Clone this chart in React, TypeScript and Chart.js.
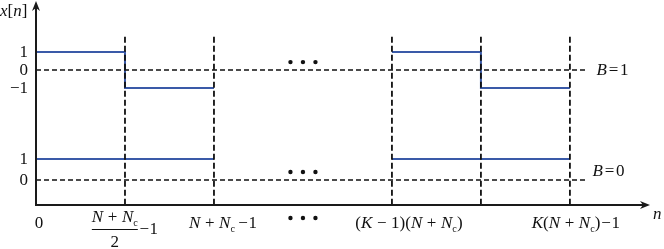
import React, { useEffect, useRef } from "react";
import { Chart, registerables } from "chart.js";

Chart.register(...registerables);

// ---- data (x in symbol-boundary units, y in signal amplitude) ----
const boundaryX = [1, 2, 4, 5, 6];
const topSeg1X = [0, 1, 1, 2];
const topSeg1Y = [1, 1, -1, -1];
const topSeg2X = [4, 5, 5, 6];
const topSeg2Y = [1, 1, -1, -1];
const botSeg1X = [0, 2];
const botSeg1Y = [1, 1];
const botSeg2X = [4, 6];
const botSeg2Y = [1, 1];
const zeroLineX = [0, 6.18];
const zeroLineY = [0, 0];
const guideY = [1.85, -7.5];
const yTopTicks = [1, 0, -1];
const yTopTickLabels = ["1", "0", "\u22121"];
const yBotTicks = [1, 0];
const yBotTickLabels = ["1", "0"];
const ellipsisX = 3;
const ellipsisTopY = 0.44;
const ellipsisBotY = 0.38;
const bLabelX = 6.3;
const bTopY = 0;
const bBotY = 0.38;

const BLUE = "#3a5aa8";
const BLACK = "#111";
const FONT = '"Liberation Serif", "DejaVu Serif", serif';
const FS = 17;

type Seg = { t?: string; i?: boolean; sub?: boolean; sp?: number };

function fontFor(s: Seg) {
  const size = s.sub ? FS * 0.6 : FS;
  return `${s.i ? "italic " : ""}${size}px ${FONT}`;
}
function measure(ctx: CanvasRenderingContext2D, segs: Seg[]) {
  let w = 0;
  for (const s of segs) {
    if (s.sp) w += s.sp * FS;
    else {
      ctx.font = fontFor(s);
      w += ctx.measureText(s.t || "").width;
    }
  }
  return w;
}
function drawRich(
  ctx: CanvasRenderingContext2D,
  segs: Seg[],
  x: number,
  y: number,
  align: "left" | "center" | "right"
) {
  const w = measure(ctx, segs);
  let cx = align === "center" ? x - w / 2 : align === "right" ? x - w : x;
  ctx.textAlign = "left";
  ctx.textBaseline = "middle";
  for (const s of segs) {
    if (s.sp) {
      cx += s.sp * FS;
      continue;
    }
    ctx.font = fontFor(s);
    ctx.fillText(s.t || "", cx, s.sub ? y + FS * 0.3 : y);
    cx += ctx.measureText(s.t || "").width;
  }
  return w;
}

const SP = 0.27;
const NNc: Seg[] = [
  { t: "N", i: true },
  { sp: SP },
  { t: "+" },
  { sp: SP },
  { t: "N", i: true },
  { t: "c", sub: true },
];
const labelNNc1: Seg[] = [...NNc, { sp: 0.2 }, { t: "\u2212" }, { sp: 0.03 }, { t: "1" }];
const labelK1: Seg[] = [
  { t: "(" },
  { t: "K", i: true },
  { sp: SP },
  { t: "\u2212" },
  { sp: SP },
  { t: "1)(" },
  ...NNc,
  { t: ")" },
];
const labelK2: Seg[] = [
  { t: "K", i: true },
  { t: "(" },
  ...NNc,
  { t: ")" },
  { sp: 0.05 },
  { t: "\u2212" },
  { sp: 0.05 },
  { t: "1" },
];
const labelB1: Seg[] = [{ t: "B", i: true }, { sp: 0.1 }, { t: "=" }, { sp: 0.1 }, { t: "1" }];
const labelB0: Seg[] = [{ t: "B", i: true }, { sp: 0.1 }, { t: "=" }, { sp: 0.1 }, { t: "0" }];

function pts(xs: number[], ys: number[]) {
  return xs.map((x, k) => ({ x, y: ys[k] }));
}

const overlay = {
  id: "overlay",
  afterDraw(chart: any) {
    const ctx: CanvasRenderingContext2D = chart.ctx;
    const xs = chart.scales.x;
    const yt = chart.scales.yTop;
    const yb = chart.scales.yBot;
    const area = chart.chartArea;
    const x0 = xs.getPixelForValue(0);
    const yAxis = area.bottom;
    ctx.save();
    ctx.strokeStyle = "#1a1a1a";
    ctx.fillStyle = "#1a1a1a";
    ctx.lineWidth = 2;
    // y axis
    ctx.beginPath();
    ctx.moveTo(x0, yAxis + 1);
    ctx.lineTo(x0, 6);
    ctx.stroke();
    ctx.beginPath();
    ctx.moveTo(x0, 1);
    ctx.lineTo(x0 - 4, 11);
    ctx.lineTo(x0, 8);
    ctx.lineTo(x0 + 4, 11);
    ctx.closePath();
    ctx.fill();
    // x axis
    const xr = area.right;
    ctx.beginPath();
    ctx.moveTo(x0 - 1, yAxis);
    ctx.lineTo(xr - 5, yAxis);
    ctx.stroke();
    ctx.beginPath();
    ctx.moveTo(xr, yAxis);
    ctx.lineTo(xr - 10, yAxis - 4);
    ctx.lineTo(xr - 7, yAxis);
    ctx.lineTo(xr - 10, yAxis + 4);
    ctx.closePath();
    ctx.fill();

    ctx.fillStyle = BLACK;
    // axis names
    drawRich(ctx, [{ t: "x", i: true }, { t: "[" }, { t: "n", i: true }, { t: "]" }], 0, 12, "left");
    drawRich(ctx, [{ t: "n", i: true }], xr + 3, yAxis + 10, "left");

    // y tick labels
    yTopTicks.forEach((v, k) => {
      drawRich(ctx, [{ t: yTopTickLabels[k] }], x0 - 8, yt.getPixelForValue(v) + 1, "right");
    });
    yBotTicks.forEach((v, k) => {
      drawRich(ctx, [{ t: yBotTickLabels[k] }], x0 - 8, yb.getPixelForValue(v) + 1, "right");
    });

    // x tick labels
    const ly = yAxis + 19;
    drawRich(ctx, [{ t: "0" }], x0 + 3, ly, "center");
    // fraction label
    {
      const cx = xs.getPixelForValue(boundaryX[0]);
      const wN = measure(ctx, NNc);
      const tail: Seg[] = [{ sp: 0.1 }, { t: "\u2212" }, { sp: 0.03 }, { t: "1" }];
      const wT = measure(ctx, tail);
      const left = cx - (wN + wT) / 2;
      drawRich(ctx, NNc, left, ly - 6, "left");
      ctx.lineWidth = 1;
      ctx.strokeStyle = BLACK;
      ctx.beginPath();
      ctx.moveTo(left, ly + 5.5);
      ctx.lineTo(left + wN, ly + 5.5);
      ctx.stroke();
      drawRich(ctx, [{ t: "2" }], left + wN / 2, ly + 19, "center");
      drawRich(ctx, tail, left + wN, ly + 6, "left");
    }
    drawRich(ctx, labelNNc1, xs.getPixelForValue(boundaryX[1]) + 9, ly, "center");
    drawRich(ctx, labelK1, xs.getPixelForValue(boundaryX[2]) + 17, ly, "center");
    drawRich(ctx, labelK2, xs.getPixelForValue(boundaryX[4]) + 6, ly, "center");

    // ellipses
    const dots = (px: number, py: number) => {
      for (let k = -1; k <= 1; k++) {
        ctx.beginPath();
        ctx.arc(px + k * 12.5, py, 2.2, 0, Math.PI * 2);
        ctx.fill();
      }
    };
    const ex = xs.getPixelForValue(ellipsisX);
    dots(ex, yt.getPixelForValue(ellipsisTopY));
    dots(ex, yb.getPixelForValue(ellipsisBotY));
    dots(ex, yAxis + 13);

    // B labels
    drawRich(ctx, labelB1, xs.getPixelForValue(bLabelX), yt.getPixelForValue(bTopY) + 1, "left");
    drawRich(ctx, labelB0, xs.getPixelForValue(bLabelX) - 4, yb.getPixelForValue(bBotY), "left");
    ctx.restore();
  },
};

export default function App() {
  const ref = useRef<HTMLCanvasElement | null>(null);
  useEffect(() => {
    if (!ref.current) return;
    const dashed = {
      borderColor: BLACK,
      borderWidth: 1.5,
      borderDash: [5, 3],
      pointRadius: 0,
      showLine: true,
      fill: false,
    };
    const blue = {
      borderColor: BLUE,
      borderWidth: 2,
      pointRadius: 0,
      showLine: true,
      fill: false,
    };
    const datasets: any[] = [];
    boundaryX.forEach((b) => {
      datasets.push({
        ...dashed,
        borderWidth: 1.8,
        borderDash: [6, 3],
        yAxisID: "yTop",
        data: pts([b, b], guideY),
      });
    });
    datasets.push({ ...dashed, yAxisID: "yTop", data: pts(zeroLineX, zeroLineY) });
    datasets.push({ ...dashed, yAxisID: "yBot", data: pts(zeroLineX, zeroLineY) });
    datasets.push({ ...blue, yAxisID: "yTop", data: pts(topSeg1X, topSeg1Y) });
    datasets.push({ ...blue, yAxisID: "yTop", data: pts(topSeg2X, topSeg2Y) });
    datasets.push({ ...blue, yAxisID: "yBot", data: pts(botSeg1X, botSeg1Y) });
    datasets.push({ ...blue, yAxisID: "yBot", data: pts(botSeg2X, botSeg2Y) });

    const chart = new Chart(ref.current, {
      type: "scatter",
      data: { datasets },
      options: {
        animation: false,
        responsive: false,
        events: [],
        layout: { padding: { left: 36, right: 14, top: 0, bottom: 44 } },
        plugins: { legend: { display: false }, tooltip: { enabled: false } },
        scales: {
          x: { type: "linear", min: 0, max: 6.9, display: false },
          yTop: { type: "linear", min: -7.5, max: 70 / 18, display: false },
          yBot: { type: "linear", min: -25 / 21, max: 180 / 21, display: false },
        },
        elements: { line: { tension: 0 } },
      },
      plugins: [overlay],
    } as any);
    return () => chart.destroy();
  }, []);
  return (
    <div style={{ position: "fixed", left: 0, top: 0, width: 664, height: 249, background: "#fff" }}>
      <canvas ref={ref} width={664} height={249} style={{ width: 664, height: 249 }} />
    </div>
  );
}
